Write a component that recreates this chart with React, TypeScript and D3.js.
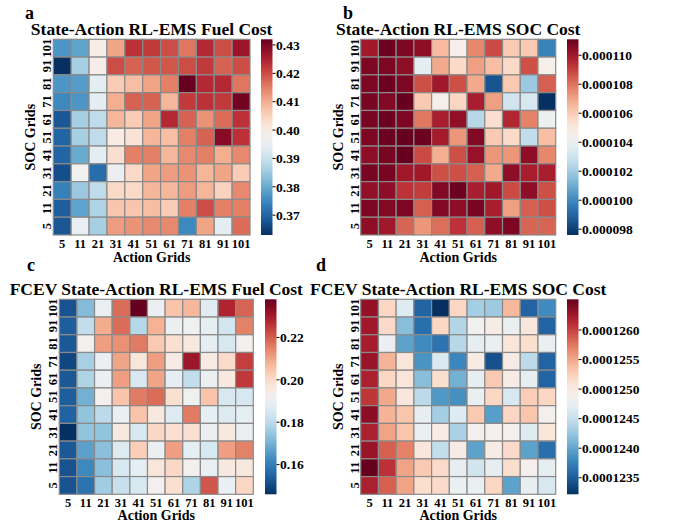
import React from "react";
import * as d3 from "d3";

// x categories (left to right) and y categories (top to bottom as drawn)
const actionGrids = ["5", "11", "21", "31", "41", "51", "61", "71", "81", "91", "101"];
const socGrids = ["101", "91", "81", "71", "61", "51", "41", "31", "21", "11", "5"];

// a: State-Action RL-EMS Fuel Cost, rows = socGrids order
const fuelCostA = [
  [0.377, 0.379, 0.399, 0.411, 0.423, 0.422, 0.420, 0.416, 0.424, 0.420, 0.427],
  [0.363, 0.386, 0.399, 0.420, 0.418, 0.419, 0.419, 0.420, 0.422, 0.418, 0.420],
  [0.377, 0.378, 0.394, 0.406, 0.408, 0.411, 0.415, 0.432, 0.424, 0.424, 0.416],
  [0.375, 0.377, 0.394, 0.410, 0.418, 0.418, 0.409, 0.422, 0.423, 0.422, 0.431],
  [0.368, 0.386, 0.389, 0.409, 0.406, 0.411, 0.424, 0.418, 0.413, 0.417, 0.423],
  [0.370, 0.386, 0.389, 0.400, 0.402, 0.409, 0.408, 0.415, 0.418, 0.429, 0.423],
  [0.370, 0.380, 0.394, 0.403, 0.415, 0.415, 0.409, 0.414, 0.415, 0.410, 0.414],
  [0.367, 0.397, 0.371, 0.396, 0.404, 0.411, 0.412, 0.413, 0.409, 0.411, 0.406],
  [0.374, 0.385, 0.389, 0.404, 0.404, 0.409, 0.409, 0.412, 0.409, 0.405, 0.414],
  [0.369, 0.379, 0.387, 0.407, 0.407, 0.408, 0.406, 0.415, 0.420, 0.415, 0.415],
  [0.368, 0.395, 0.386, 0.412, 0.413, 0.414, 0.414, 0.375, 0.411, 0.394, 0.417],
];

// b: State-Action RL-EMS SOC Cost (x 1e-6)
const socCostB = [
  [110.0, 111.0, 110.7, 110.4, 106.5, 104.6, 107.6, 108.8, 106.1, 106.1, 99.8],
  [110.7, 110.7, 110.4, 103.7, 106.9, 105.6, 107.1, 106.4, 105.6, 108.7, 104.6],
  [110.7, 111.0, 110.7, 108.7, 110.0, 108.7, 106.9, 98.5, 106.1, 101.9, 108.4],
  [110.8, 110.6, 111.1, 106.1, 104.6, 105.7, 109.8, 107.1, 103.1, 103.3, 97.6],
  [110.8, 111.0, 110.7, 107.9, 109.8, 110.3, 102.5, 105.4, 109.6, 107.7, 104.1],
  [110.7, 111.0, 111.1, 111.0, 109.9, 107.3, 110.6, 106.1, 105.6, 102.7, 106.4],
  [110.4, 110.8, 111.1, 108.8, 106.8, 108.7, 110.2, 107.3, 107.3, 110.4, 107.6],
  [110.8, 110.8, 110.0, 110.0, 108.7, 108.7, 108.4, 106.9, 110.4, 109.8, 109.8],
  [110.3, 110.4, 109.3, 109.1, 110.6, 111.0, 109.8, 110.0, 108.8, 110.4, 108.7],
  [110.7, 110.6, 110.7, 108.4, 110.6, 110.4, 110.8, 109.8, 107.1, 108.4, 108.7],
  [110.4, 110.0, 108.3, 107.3, 108.1, 109.3, 108.4, 110.4, 110.7, 108.3, 108.3],
];

// c: FCEV State-Action RL-EMS Fuel Cost
const fuelCostC = [
  [0.152, 0.172, 0.190, 0.218, 0.238, 0.190, 0.205, 0.207, 0.187, 0.228, 0.219],
  [0.154, 0.181, 0.209, 0.218, 0.179, 0.208, 0.190, 0.191, 0.188, 0.184, 0.215],
  [0.153, 0.192, 0.211, 0.213, 0.216, 0.204, 0.199, 0.196, 0.188, 0.185, 0.192],
  [0.150, 0.177, 0.190, 0.210, 0.197, 0.211, 0.195, 0.231, 0.195, 0.200, 0.224],
  [0.153, 0.178, 0.190, 0.211, 0.185, 0.210, 0.188, 0.181, 0.190, 0.196, 0.225],
  [0.154, 0.170, 0.192, 0.205, 0.216, 0.218, 0.199, 0.191, 0.205, 0.185, 0.185],
  [0.155, 0.174, 0.180, 0.189, 0.205, 0.196, 0.186, 0.216, 0.188, 0.186, 0.188],
  [0.146, 0.174, 0.174, 0.196, 0.185, 0.201, 0.199, 0.199, 0.190, 0.196, 0.190],
  [0.153, 0.167, 0.173, 0.186, 0.203, 0.190, 0.211, 0.188, 0.185, 0.211, 0.215],
  [0.152, 0.162, 0.173, 0.185, 0.188, 0.197, 0.201, 0.192, 0.189, 0.196, 0.196],
  [0.152, 0.158, 0.176, 0.182, 0.185, 0.192, 0.199, 0.178, 0.221, 0.189, 0.201],
];

// d: FCEV State-Action RL-EMS SOC Cost (x 1e-7)
const socCostD = [
  [1263.2, 1252.0, 1246.7, 1235.5, 1232.2, 1252.0, 1243.1, 1242.8, 1254.0, 1235.5, 1238.1],
  [1262.6, 1251.7, 1241.8, 1236.2, 1252.0, 1243.8, 1248.4, 1249.7, 1247.7, 1250.4, 1235.5],
  [1262.2, 1248.0, 1239.8, 1238.1, 1236.5, 1244.1, 1247.4, 1247.7, 1250.7, 1251.3, 1248.0],
  [1262.9, 1254.3, 1250.7, 1238.8, 1246.4, 1237.8, 1249.7, 1234.2, 1249.7, 1244.4, 1235.5],
  [1261.9, 1252.0, 1250.7, 1241.8, 1251.3, 1240.8, 1247.4, 1253.0, 1249.7, 1247.4, 1235.5],
  [1260.6, 1255.0, 1250.4, 1244.4, 1239.1, 1238.5, 1247.7, 1252.0, 1246.1, 1252.7, 1252.0],
  [1263.6, 1254.3, 1253.3, 1247.4, 1243.1, 1246.7, 1253.0, 1239.5, 1252.0, 1253.3, 1249.0],
  [1261.9, 1255.3, 1253.3, 1247.7, 1249.7, 1243.4, 1248.7, 1249.0, 1249.0, 1246.7, 1250.7],
  [1262.9, 1258.6, 1257.0, 1250.4, 1244.7, 1249.7, 1239.8, 1249.7, 1251.7, 1239.8, 1236.2],
  [1265.2, 1260.9, 1255.3, 1253.0, 1251.7, 1247.4, 1245.7, 1247.4, 1251.3, 1249.0, 1247.4],
  [1261.9, 1258.6, 1255.3, 1251.3, 1251.7, 1247.7, 1247.7, 1252.0, 1239.8, 1247.4, 1246.1],
];

// colorbar ticks (same units as the arrays above)
const ticksA = [0.37, 0.38, 0.39, 0.40, 0.41, 0.42, 0.43];
const tickLabelsA = ["0.37", "0.38", "0.39", "0.40", "0.41", "0.42", "0.43"];
const ticksB = [98, 100, 102, 104, 106, 108, 110];
const tickLabelsB = ["0.000098", "0.000100", "0.000102", "0.000104", "0.000106", "0.000108", "0.000110"];
const ticksC = [0.16, 0.18, 0.20, 0.22];
const tickLabelsC = ["0.16", "0.18", "0.20", "0.22"];
const ticksD = [1235, 1240, 1245, 1250, 1255, 1260];
const tickLabelsD = ["0.0001235", "0.0001240", "0.0001245", "0.0001250", "0.0001255", "0.0001260"];

const FONT = "'Liberation Serif', 'Times New Roman', serif";

function Heatmap(props: any) {
  const { id, letter, letterX, letterY, title, values, ticks, tickLabels, left, top, width, height, cbX, xlabGap } = props;
  const x = d3.scaleBand().domain(actionGrids).range([left, left + width]);
  const y = d3.scaleBand().domain(socGrids).range([top, top + height]);
  const ext = d3.extent(values.flat() as number[]) as [number, number];
  const color = d3.scaleSequential((t: number) => d3.interpolateRdBu(1 - t)).domain(ext);
  const cbScale = d3.scaleLinear().domain(ext).range([top + height, top]);
  const cbW = 11.5;
  const stops = d3.range(0, 1.0001, 0.05);

  return (
    <g fontFamily={FONT} fontWeight="bold" fill="#000">
      <defs>
        <linearGradient id={"grad" + id} x1="0" y1="1" x2="0" y2="0">
          {stops.map((s) => (
            <stop key={s} offset={s} stopColor={d3.interpolateRdBu(1 - s)} />
          ))}
        </linearGradient>
      </defs>
      <text x={letterX} y={letterY} fontSize={18}>{letter}</text>
      <text x={left + width / 2} y={top - 4.5} fontSize={17.5} textAnchor="middle">{title}</text>
      {values.map((row: number[], i: number) =>
        row.map((v, j) => (
          <rect
            key={i + "-" + j}
            x={x(actionGrids[j])}
            y={y(socGrids[i])}
            width={x.bandwidth()}
            height={y.bandwidth()}
            fill={color(v)}
            stroke="#8a8a8a"
            strokeWidth={1.2}
          />
        ))
      )}
      {actionGrids.map((g) => (
        <text key={g} x={(x(g) as number) + x.bandwidth() / 2} y={top + height + 13} fontSize={12.5} textAnchor="middle">
          {g}
        </text>
      ))}
      {socGrids.map((g) => {
        const tx = left - 2;
        const ty = (y(g) as number) + y.bandwidth() / 2;
        return (
          <text key={g} x={tx} y={ty} fontSize={12.5} textAnchor="middle" transform={`rotate(-90, ${tx}, ${ty})`}>
            {g}
          </text>
        );
      })}
      <text x={left + width / 2} y={top + height + xlabGap} fontSize={14} textAnchor="middle">Action Grids</text>
      <text
        x={left - 18}
        y={top + height / 2}
        fontSize={14}
        textAnchor="middle"
        transform={`rotate(-90, ${left - 18}, ${top + height / 2})`}
      >
        SOC Grids
      </text>
      <rect x={cbX} y={top} width={cbW} height={height} fill={`url(#grad${id})`} />
      {ticks.map((t: number, i: number) => (
        <g key={t}>
          <line x1={cbX + cbW} x2={cbX + cbW + 3} y1={cbScale(t)} y2={cbScale(t)} stroke="#000" strokeWidth={1} />
          <text x={cbX + cbW + 3.5} y={cbScale(t)} dy="0.35em" fontSize={13.5}>{tickLabels[i]}</text>
        </g>
      ))}
    </g>
  );
}

export default function App() {
  return (
    <svg width={682} height={520} style={{ position: "absolute", left: 0, top: 0, background: "#fff" }}>
      <rect width={682} height={520} fill="#fff" />
      <Heatmap id="a" letter="a" letterX={25} letterY={19} title="State-Action RL-EMS Fuel Cost"
        values={fuelCostA} ticks={ticksA} tickLabels={tickLabelsA}
        left={53.3} top={39.3} width={196.7} height={195.7} cbX={261} xlabGap={27} />
      <Heatmap id="b" letter="b" letterX={343} letterY={19} title="State-Action RL-EMS SOC Cost"
        values={socCostB} ticks={ticksB} tickLabels={tickLabelsB}
        left={360.7} top={39.3} width={195} height={195.7} cbX={567} xlabGap={27} />
      <Heatmap id="c" letter="c" letterX={27} letterY={271} title="FCEV State-Action RL-EMS Fuel Cost"
        values={fuelCostC} ticks={ticksC} tickLabels={tickLabelsC}
        left={59.3} top={299.3} width={194} height={195} cbX={265} xlabGap={25.3} />
      <Heatmap id="d" letter="d" letterX={316} letterY={271} title="FCEV State-Action RL-EMS SOC Cost"
        values={socCostD} ticks={ticksD} tickLabels={tickLabelsD}
        left={360.7} top={299.3} width={195} height={195} cbX={567} xlabGap={25.3} />
    </svg>
  );
}
